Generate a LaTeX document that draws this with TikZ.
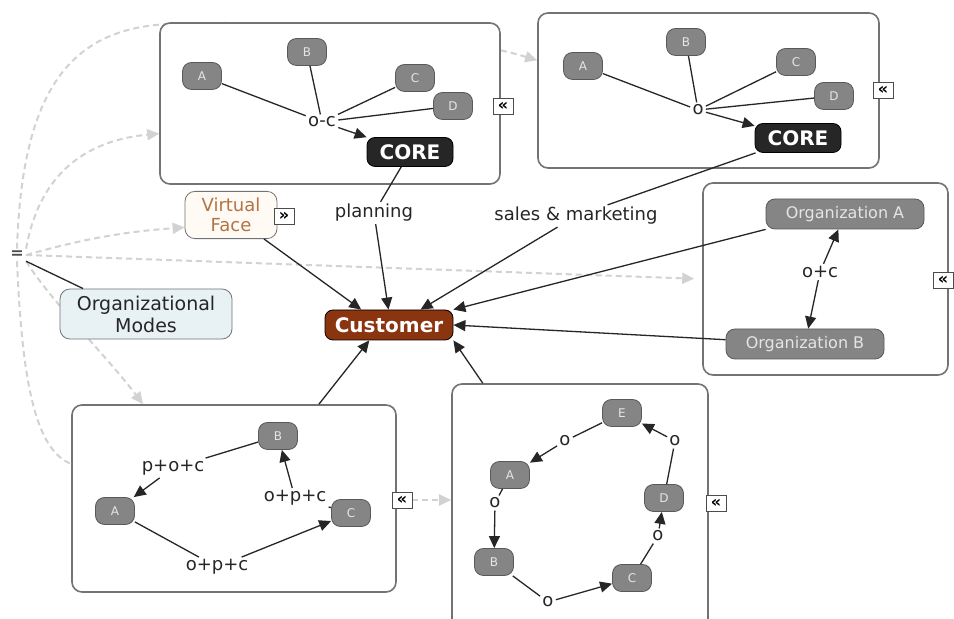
\documentclass[tikz,border=0pt]{standalone}
\usepackage{fontspec}
\setmainfont{DejaVu Sans}
\usetikzlibrary{arrows.meta, backgrounds}
\definecolor{custbrown}{HTML}{8A3410}
\definecolor{facefill}{HTML}{FFFAF3}
\definecolor{facetext}{HTML}{B27446}
\definecolor{modefill}{HTML}{E8F1F4}
\tikzset{
  frame/.style={draw=black!55, line width=0.8pt, rounded corners=5pt, fill=white, inner sep=0pt},
  item/.style={draw=black!65, fill=black!48, rounded corners=4.5pt, text=black!10,
    font=\fontsize{6}{7}\selectfont, minimum width=19.5pt, minimum height=13.5pt, inner sep=0pt},
  org/.style={item, minimum width=79pt, minimum height=15pt, font=\fontsize{8}{9}\selectfont},
  core/.style={draw=black, fill=black!85, text=white, rounded corners=4pt,
    font=\fontsize{10}{11}\selectfont\bfseries, minimum width=43pt, minimum height=14.5pt},
  rel/.style={inner sep=1pt, text=black!85, font=\fontsize{9}{10}\selectfont},
  fold/.style={draw=black!70, fill=white, inner sep=0.3pt, font=\fontsize{8}{8}\selectfont\bfseries,
    minimum width=10pt, minimum height=8pt},
  link/.style={line width=0.65pt, black!85},
  flow/.style={link, -{Triangle[length=6pt,width=5.5pt]}},
  mode/.style={gray!35, line width=1pt, dash pattern=on 3pt off 2pt, -{Triangle[length=6pt,width=5.5pt]}},
}

\begin{document}
\begin{tikzpicture}[x=0.5pt, y=-0.5pt]
    \useasboundingbox (0,0) rectangle (954,619);

    \node[frame, minimum width=170pt, minimum height=80.5pt] (tlbox) at (330,103.5) {};
    \node[frame, minimum width=170.5pt, minimum height=77.5pt] (trbox) at (708.5,90.5) {};
    \node[frame, minimum width=122.5pt, minimum height=96pt] (rbox) at (825.5,279) {};
    \node[frame, minimum width=162pt, minimum height=93.5pt] (blbox) at (234,498.5) {};
    \node[frame, minimum width=128pt, minimum height=133pt] (brbox) at (580,517) {};

    \node[text=black!70, inner sep=1pt, font=\fontsize{8}{8}\selectfont\bfseries] (hub) at (17,255) {=};
    \node[draw=black!55, fill=modefill, rounded corners=5pt, align=center, text=black!85,
          font=\fontsize{9.5}{11}\selectfont, minimum width=86pt, minimum height=22.5pt] (modes) at (146,314) {Organizational\\Modes};
    \node[draw=black!55, fill=facefill, rounded corners=5pt, align=center, text=facetext,
          font=\fontsize{9}{10}\selectfont, minimum width=46pt, minimum height=22.5pt] (vface) at (231,215) {Virtual\\Face};
    \node[draw=black, fill=custbrown, text=white, rounded corners=4pt, font=\fontsize{10}{11}\selectfont\bfseries,
          minimum width=64pt, minimum height=15pt] (cust) at (389,325) {Customer};

    \node[item] (tla) at (202,76) {A};
    \node[item] (tlb) at (307,52) {B};
    \node[item] (tlc) at (415,78) {C};
    \node[item] (tld) at (453,106) {D};
    \node[rel] (tloc) at (322,122) {o-c};
    \node[core] (tlcore) at (410,152) {CORE};
    \node[fold] (tlfold) at (503,106) {«};

    \node[item] (tra) at (583,66) {A};
    \node[item] (trb) at (686,42) {B};
    \node[item] (trc) at (796,62) {C};
    \node[item] (trd) at (834,96) {D};
    \node[rel] (tro) at (698,110) {o};
    \node[core] (trcore) at (798,138) {CORE};
    \node[fold] (trfold) at (883,90) {«};

    \node[fold] (vffold) at (284,216) {»};
    \node[rel] (plan) at (374,213) {planning};
    \node[rel] (sales) at (576,216) {sales \& marketing};

    \node[org] (orga) at (845,214) {Organization A};
    \node[org] (orgb) at (805,344) {Organization B};
    \node[rel] (orgoc) at (820,272) {o+c};
    \node[fold] (rfold) at (943,280) {«};

    \node[item] (blb) at (278,436) {B};
    \node[item] (bla) at (115,511) {A};
    \node[item] (blc) at (351,513) {C};
    \node[rel] (pocl) at (173,468) {p+o+c};
    \node[rel] (opcr) at (295,498) {o+p+c};
    \node[rel] (opcb) at (217,567) {o+p+c};
    \node[fold] (blfold) at (402,500) {«};

    \node[item] (bre) at (622,413) {E};
    \node[item] (bra) at (510,475) {A};
    \node[item] (brd) at (664,498) {D};
    \node[item] (brb) at (494,562) {B};
    \node[item] (brc) at (632,578) {C};
    \node[rel] (bro1) at (565,441) {o};
    \node[rel] (bro2) at (495,503) {o};
    \node[rel] (bro3) at (548,602) {o};
    \node[rel] (bro4) at (658,536) {o};
    \node[rel] (bro5) at (675,441) {o};
    \node[fold] (brfold) at (716,503) {«};

    \begin{scope}[on background layer]
        \fill[white] (0,0) rectangle (954,619);
        \draw[mode] (hub.north) .. controls (22,90) and (70,28) .. (170,24)
            .. controls (330,18) and (470,40) .. (trbox.170);
        \draw[mode] (hub.north east) .. controls (40,170) and (90,140) .. (tlbox.190);
        \draw[mode] (hub.east) .. controls (80,240) and (120,232) .. (vface.195);
        \draw[mode, shorten >=4pt] (hub.east) -- (rbox.west);
        \draw[mode] (hub.south east) .. controls (50,300) and (110,360) .. (blbox.134);
        \draw[mode, -] (hub.south) .. controls (22,380) and (35,450) .. (blbox.168);
        \draw[mode] (blfold.east) -- (blfold.east -| brbox.west);
    \end{scope}

    \draw[link] (hub.south east) -- (modes.158);

    \foreach \n in {a,b,c,d}
        \draw[link] (tl\n) -- (tloc);
    \draw[flow] (tloc) -- (tlcore);
    \foreach \n in {a,b,c,d}
        \draw[link] (tr\n) -- (tro);
    \draw[flow] (tro) -- (trcore);

    \draw[link] (tlcore) -- (plan);
    \draw[flow] (plan) -- (cust.92);
    \draw[link] (trcore) -- (sales);
    \draw[flow] (sales) -- (cust.26);
    \draw[flow] (vface) -- (cust.151);
    \draw[flow] (orga.south west) -- (cust.north east);
    \draw[flow] (orgb) -- (cust.east);
    \draw[flow] (blbox.48) -- (cust.218);
    \draw[flow] (brbox.126) -- (cust.south east);

    \draw[flow] (orgoc) -- (orga);
    \draw[flow] (orgoc) -- (orgb);

    \draw[link] (blb) -- (pocl);
    \draw[flow] (pocl) -- (bla);
    \draw[link] (blc) -- (opcr);
    \draw[flow] (opcr) -- (blb);
    \draw[link] (bla) -- (opcb);
    \draw[flow] (opcb) -- (blc);

    \foreach \s/\l/\t in {bre/bro1/bra, bra/bro2/brb, brb/bro3/brc, brc/bro4/brd, brd/bro5/bre} {
        \draw[link] (\s) -- (\l);
        \draw[flow] (\l) -- (\t);
    }
\end{tikzpicture}
\end{document}
